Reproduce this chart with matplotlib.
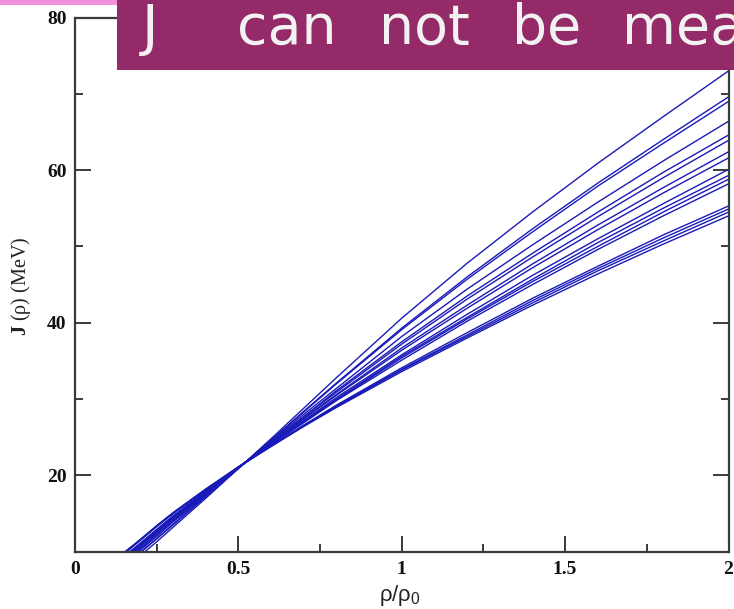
import matplotlib
matplotlib.use("Agg")
import matplotlib.pyplot as plt
from matplotlib.patches import Rectangle
from matplotlib.ticker import MultipleLocator

plt.rcParams["mathtext.fontset"] = "custom"
plt.rcParams["mathtext.rm"] = "Liberation Serif"
plt.rcParams["mathtext.bf"] = "Liberation Serif:bold"

# density grid rho/rho0 shared by all parametrisations
density = [0.15, 0.2, 0.25, 0.3, 0.4, 0.5, 0.6, 0.7, 0.8, 1.0, 1.2, 1.4, 1.6, 1.8, 2.0]

# symmetry energy J(rho) in MeV, one list per parametrisation
j_curves = [
    [7.6, 9.5, 11.3, 13.2, 17.0, 20.9, 24.8, 28.8, 32.8, 40.6, 47.8, 54.5, 60.9, 67.0, 73.0],
    [8.0, 9.9, 11.7, 13.5, 17.2, 20.9, 24.6, 28.4, 32.1, 39.3, 46.0, 52.3, 58.3, 64.0, 69.6],
    [8.1, 9.9, 11.7, 13.6, 17.3, 20.9, 24.6, 28.3, 32.0, 39.1, 45.7, 51.9, 57.9, 63.5, 69.0],
    [8.4, 10.2, 12.0, 13.9, 17.4, 21.0, 24.5, 28.0, 31.4, 38.2, 44.4, 50.2, 55.8, 61.2, 66.4],
    [8.6, 10.4, 12.2, 14.0, 17.5, 21.0, 24.4, 27.7, 31.1, 37.5, 43.5, 49.1, 54.5, 59.7, 64.6],
    [8.7, 10.5, 12.3, 14.1, 17.6, 21.0, 24.3, 27.7, 30.9, 37.2, 43.1, 48.6, 53.9, 59.0, 63.9],
    [8.9, 10.7, 12.5, 14.3, 17.7, 21.0, 24.2, 27.5, 30.6, 36.7, 42.3, 47.7, 52.8, 57.7, 62.4],
    [9.0, 10.8, 12.6, 14.3, 17.7, 21.0, 24.2, 27.4, 30.5, 36.4, 41.9, 47.2, 52.2, 57.0, 61.6],
    [9.2, 10.9, 12.7, 14.5, 17.8, 21.0, 24.1, 27.2, 30.2, 35.8, 41.1, 46.2, 51.0, 55.6, 60.1],
    [9.3, 11.0, 12.8, 14.6, 17.9, 21.0, 24.1, 27.1, 30.0, 35.6, 40.7, 45.7, 50.5, 55.0, 59.3],
    [9.3, 11.1, 12.9, 14.6, 17.9, 21.1, 24.1, 27.0, 29.9, 35.4, 40.5, 45.4, 50.0, 54.5, 58.8],
    [9.4, 11.1, 12.9, 14.7, 17.9, 21.1, 24.0, 26.9, 29.8, 35.1, 40.2, 45.0, 49.6, 54.0, 58.2],
    [9.7, 11.5, 13.3, 15.0, 18.1, 21.1, 23.9, 26.6, 29.2, 34.1, 38.7, 43.2, 47.4, 51.5, 55.3],
    [9.8, 11.5, 13.3, 15.0, 18.1, 21.1, 23.8, 26.5, 29.1, 33.9, 38.4, 42.9, 47.1, 51.1, 54.9],
    [9.8, 11.6, 13.4, 15.1, 18.2, 21.1, 23.8, 26.5, 29.0, 33.8, 38.2, 42.6, 46.8, 50.7, 54.5],
    [9.9, 11.6, 13.4, 15.1, 18.2, 21.1, 23.8, 26.4, 28.9, 33.6, 38.0, 42.3, 46.4, 50.3, 54.0],
]

x_ticks = [0, 0.5, 1, 1.5, 2]
x_tick_labels = ["0", "0.5", "1", "1.5", "2"]
y_ticks = [20, 40, 60, 80]
y_tick_labels = ["20", "40", "60", "80"]

banner_words = ["J", "can", "not", "be", "measured"]

W, H = 734, 609
fig = plt.figure(figsize=(W / 100, H / 100), dpi=100, facecolor="white")
ax = fig.add_axes([75 / W, 1 - 551.7 / H, (728.5 - 75) / W, (551.7 - 17.5) / H])

for jv in j_curves:
    ax.plot(density, jv, color="#1a1ab8", lw=1.0, solid_joinstyle="round")

ax.set_xlim(0, 2)
ax.set_ylim(10, 80)

ax.set_xticks(x_ticks)
ax.set_xticklabels(x_tick_labels)
ax.set_yticks(y_ticks)
ax.set_yticklabels(y_tick_labels)
ax.xaxis.set_minor_locator(MultipleLocator(0.25))
ax.yaxis.set_minor_locator(MultipleLocator(10))

axis_col = "#3a3a3a"
for sp in ax.spines.values():
    sp.set_color(axis_col)
    sp.set_linewidth(1.6)

ax.tick_params(which="both", direction="in", top=True, right=True, color=axis_col, width=1.4)
ax.tick_params(which="major", length=11.5)
ax.tick_params(which="minor", length=6)
ax.tick_params(axis="x", which="major", pad=7)
ax.tick_params(axis="y", which="major", pad=6)

for lab in ax.get_xticklabels() + ax.get_yticklabels():
    lab.set_fontfamily("Liberation Serif")
    lab.set_fontweight("bold")
    lab.set_fontsize(14)
    lab.set_color("#111111")

# axis titles
fig.text(21 / W, 1 - 286 / H, r"$\mathbf{J}$ (ρ) (MeV)", rotation=90, ha="center", va="center",
         fontfamily="Liberation Serif", fontsize=14.5, color="#222222")
fig.text(400 / W, 1 - 595 / H, r"ρ/ρ$_\mathregular{0}$", ha="center", va="center",
         fontfamily="Liberation Sans", fontsize=16, color="#222222")

# slide decorations: pink strip and title banner
fig.patches.append(Rectangle((0, 1 - 5 / H), 117 / W, 5 / H, transform=fig.transFigure,
                             facecolor="#f190dc", edgecolor="none", zorder=5))
fig.patches.append(Rectangle((117 / W, 1 - 70 / H), 1 - 117 / W, 70 / H,
                             transform=fig.transFigure, facecolor="#952a68",
                             edgecolor="none", zorder=5))

word_x = [142, 237, 379, 512, 622]
for wx, word in zip(word_x, banner_words):
    fig.text(wx / W, 1 - 44 / H, word, ha="left", va="baseline",
             fontfamily="DejaVu Sans", fontsize=40, color="#f2f2f2", zorder=6)

fig.savefig("out.png", dpi=100, facecolor="white")
